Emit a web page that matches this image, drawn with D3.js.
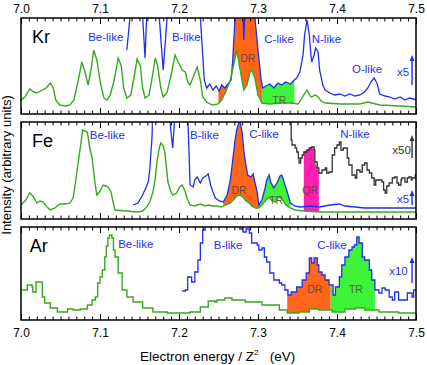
<!DOCTYPE html>
<html>
<head>
<meta charset="utf-8">
<script src="https://cdn.jsdelivr.net/npm/d3@7"></script>
<style>
  body { margin: 0; background: #fff; }
  svg { display: block; font-family: "Liberation Sans", Arial, sans-serif; }
</style>
</head>
<body>
<svg id="chart" width="427" height="365"></svg>
<script>
// spectra as [energy / Z^2 (eV), intensity (arb.)]
var krMain = [[7.000,14],[7.005,17],[7.011,25],[7.016,22],[7.020,21],[7.027,24],[7.032,26],[7.037,31],[7.041,26],[7.044,14],[7.049,9],[7.057,8],[7.062,9],[7.067,14],[7.072,32],[7.077,52],[7.081,42],[7.085,29],[7.089,46],[7.092,64],[7.096,54],[7.101,29],[7.105,16],[7.109,14],[7.113,19],[7.118,34],[7.123,56],[7.127,48],[7.130,26],[7.134,16],[7.139,19],[7.143,36],[7.147,55],[7.151,48],[7.154,26],[7.157,16],[7.162,19],[7.166,36],[7.170,56],[7.173,48],[7.177,26],[7.180,17],[7.185,22],[7.190,39],[7.195,59],[7.199,52],[7.204,44],[7.208,42],[7.211,32],[7.214,29],[7.219,39],[7.223,47],[7.227,34],[7.230,17],[7.235,12],[7.242,9],[7.249,10],[7.254,14],[7.259,22],[7.265,34],[7.270,52],[7.273,64],[7.277,46],[7.282,24],[7.286,29],[7.290,42],[7.292,44],[7.296,36],[7.300,19],[7.305,11],[7.315,10],[7.328,11],[7.341,11],[7.351,10],[7.357,18],[7.362,24],[7.366,18],[7.368,17],[7.372,19],[7.375,18],[7.380,13],[7.385,11],[7.404,10],[7.429,10],[7.439,12],[7.444,11],[7.454,9],[7.480,8],[7.501,7]];
var krX5 = [[7.134,64],[7.138,97],[7.142,130],[7.152,130],[7.154,97],[7.157,56],[7.159,97],[7.162,130],[7.172,130],[7.175,97],[7.180,44],[7.185,97],[7.187,130],[7.224,130],[7.227,97],[7.232,34],[7.235,26],[7.239,30],[7.243,24],[7.247,28],[7.251,23],[7.254,29],[7.258,26],[7.262,30],[7.266,34],[7.268,54],[7.271,97],[7.273,130],[7.280,130],[7.282,74],[7.285,130],[7.294,130],[7.296,97],[7.300,64],[7.304,34],[7.306,26],[7.310,28],[7.315,30],[7.320,26],[7.325,31],[7.330,29],[7.335,32],[7.341,30],[7.346,34],[7.349,36],[7.353,42],[7.357,59],[7.359,79],[7.362,94],[7.365,79],[7.367,59],[7.368,52],[7.371,59],[7.373,66],[7.376,62],[7.378,44],[7.382,29],[7.385,24],[7.391,21],[7.397,19],[7.404,20],[7.410,18],[7.416,20],[7.423,18],[7.429,19],[7.435,22],[7.439,26],[7.443,32],[7.447,36],[7.451,30],[7.454,20],[7.461,18],[7.467,17],[7.473,15],[7.480,17],[7.486,14],[7.492,16],[7.501,14]];

var feMain = [[7.000,14],[7.006,19],[7.011,26],[7.015,23],[7.020,16],[7.024,18],[7.028,17],[7.033,12],[7.037,9],[7.043,11],[7.049,15],[7.056,15],[7.062,16],[7.066,21],[7.068,31],[7.072,54],[7.075,71],[7.078,89],[7.084,87],[7.087,71],[7.090,61],[7.094,34],[7.096,24],[7.100,28],[7.104,34],[7.108,33],[7.110,32],[7.114,27],[7.116,19],[7.119,9],[7.134,8],[7.147,7],[7.154,8],[7.159,12],[7.163,17],[7.167,27],[7.170,41],[7.172,57],[7.175,71],[7.177,76],[7.180,73],[7.182,67],[7.186,37],[7.189,29],[7.192,24],[7.197,26],[7.201,32],[7.204,34],[7.208,27],[7.210,21],[7.214,14],[7.220,13],[7.227,15],[7.233,13],[7.237,14],[7.243,13],[7.248,13],[7.254,12],[7.259,14],[7.265,16],[7.270,20],[7.273,23],[7.277,24],[7.281,22],[7.285,18],[7.289,16],[7.292,13],[7.297,11],[7.301,11],[7.305,14],[7.310,19],[7.314,22],[7.318,18],[7.322,17],[7.325,21],[7.328,22],[7.332,18],[7.335,14],[7.341,11],[7.347,9],[7.358,8],[7.378,7],[7.404,7],[7.429,7],[7.454,7],[7.480,7],[7.501,7]];
var feX5 = [[7.142,14],[7.148,16],[7.154,24],[7.158,31],[7.161,37],[7.163,49],[7.166,84],[7.167,130],[7.187,130],[7.189,94],[7.192,71],[7.194,94],[7.197,130],[7.210,130],[7.213,59],[7.214,34],[7.218,32],[7.220,39],[7.223,42],[7.227,36],[7.230,41],[7.234,43],[7.237,45],[7.240,34],[7.243,27],[7.246,21],[7.251,18],[7.256,17],[7.261,24],[7.265,39],[7.268,59],[7.271,79],[7.273,89],[7.276,97],[7.277,99],[7.280,86],[7.282,69],[7.284,57],[7.287,44],[7.291,42],[7.294,45],[7.296,37],[7.299,27],[7.301,14],[7.305,19],[7.309,31],[7.311,39],[7.314,44],[7.316,37],[7.320,31],[7.324,36],[7.328,43],[7.330,44],[7.333,37],[7.337,27],[7.341,16],[7.346,13],[7.353,12],[7.366,13],[7.378,12],[7.391,14],[7.403,15],[7.410,13],[7.423,12],[7.435,11],[7.454,11],[7.480,11],[7.501,11]];
var feX50 = [[7.341,130],[7.342,79],[7.343,74],[7.347,71],[7.349,67],[7.351,61],[7.352,56],[7.354,61],[7.356,64],[7.358,67],[7.362,69],[7.365,71],[7.368,72],[7.371,69],[7.372,57],[7.375,51],[7.377,46],[7.381,49],[7.385,51],[7.387,46],[7.390,47],[7.394,64],[7.397,71],[7.400,74],[7.403,77],[7.405,69],[7.408,71],[7.410,71],[7.413,61],[7.415,54],[7.419,44],[7.423,41],[7.425,49],[7.429,47],[7.432,54],[7.435,56],[7.438,49],[7.441,46],[7.444,41],[7.447,34],[7.449,39],[7.453,39],[7.457,37],[7.459,29],[7.461,26],[7.463,33],[7.466,36],[7.470,41],[7.473,42],[7.476,36],[7.478,34],[7.481,39],[7.482,41],[7.486,37],[7.489,41],[7.491,42],[7.494,39],[7.495,41],[7.499,44],[7.501,42]];

var arMain = [[7.001,30],[7.008,35],[7.014,33],[7.015,28],[7.019,38],[7.024,38],[7.027,23],[7.030,17],[7.037,12],[7.046,8],[7.053,8],[7.059,11],[7.066,10],[7.075,11],[7.084,15],[7.090,20],[7.094,23],[7.097,37],[7.100,43],[7.103,50],[7.106,63],[7.108,74],[7.110,82],[7.112,85],[7.115,82],[7.117,70],[7.119,63],[7.123,47],[7.128,30],[7.134,23],[7.142,18],[7.154,12],[7.167,8],[7.185,7],[7.201,7],[7.214,8],[7.227,13],[7.237,19],[7.246,18],[7.248,20],[7.258,22],[7.267,20],[7.284,18],[7.305,15],[7.327,10],[7.337,7],[7.352,8],[7.365,11],[7.377,10],[7.394,8],[7.410,11],[7.423,12],[7.435,10],[7.453,8],[7.478,7],[7.501,7]];
var arX10 = [[7.204,29],[7.208,30],[7.211,43],[7.216,38],[7.220,48],[7.224,60],[7.227,77],[7.230,90],[7.233,130],[7.275,130],[7.277,91],[7.281,88],[7.285,91],[7.289,87],[7.292,77],[7.299,75],[7.301,70],[7.305,72],[7.308,63],[7.311,58],[7.315,47],[7.320,40],[7.324,40],[7.327,37],[7.330,35],[7.334,30],[7.338,25],[7.342,28],[7.346,28],[7.349,33],[7.352,33],[7.356,40],[7.361,47],[7.365,62],[7.368,57],[7.371,62],[7.375,55],[7.377,48],[7.381,45],[7.385,40],[7.390,35],[7.395,25],[7.398,33],[7.403,43],[7.406,55],[7.410,63],[7.415,70],[7.419,73],[7.422,75],[7.425,83],[7.428,77],[7.432,63],[7.435,60],[7.441,50],[7.444,40],[7.448,30],[7.453,27],[7.457,32],[7.461,30],[7.466,23],[7.470,20],[7.473,28],[7.478,20],[7.486,20],[7.489,27],[7.492,27],[7.495,23],[7.497,30],[7.501,30]];

// resonance bands: [label, from, to]
var krBands = [["DR", 7.250, 7.305], ["TR", 7.305, 7.346]];
var feBands = [["DR", 7.256, 7.301], ["TR", 7.301, 7.341], ["QR", 7.358, 7.377]];
var arBands = [["DR", 7.337, 7.392], ["TR", 7.392, 7.448]];

var xTickLabels = [7.0, 7.1, 7.2, 7.3, 7.4, 7.5];

var GREEN = "#3aa81e", BLUE = "#1f2ff0", DARK = "#333";
var bandFill = { DR: "#ff6618", TR: "#3ff23a", QR: "#ff1eb0" };
var bandText = { DR: "#6a4a3c", TR: "#4a6a3c", QR: "#6a3c55" };

var svg = d3.select("#chart");
var x = d3.scaleLinear().domain([7.0, 7.5]).range([21, 416]);

var panels = [
    { id: "kr", name: "Kr", top: 18, bottom: 114, max: 96, step: false,
      main: krMain, mag: krX5, magColor: BLUE, extra: null, bands: krBands,
      labels: [["Be-like", 7.085, 73], ["B-like", 7.191, 73], ["C-like", 7.308, 71], ["N-like", 7.368, 71], ["O-like", 7.419, 41], ["x5", 7.476, 38]],
      bandLabels: [["DR", 7.287, 52], ["TR", 7.327, 10]],
      arrows: [[BLUE, 29, 59]], nameAt: [7.014, 71] },
    { id: "fe", name: "Fe", top: 122, bottom: 219, max: 97, step: false,
      main: feMain, mag: feX5, magColor: BLUE, extra: feX50, bands: feBands,
      labels: [["Be-like", 7.087, 80], ["B-like", 7.214, 80], ["C-like", 7.289, 81], ["N-like", 7.404, 81], ["x5", 7.476, 16]],
      darkLabels: [["x50", 7.470, 65]],
      bandLabels: [["DR", 7.276, 25], ["TR", 7.323, 15], ["QR", 7.366, 25]],
      arrows: [[DARK, 61, 84], [BLUE, 14, 29]], nameAt: [7.014, 72] },
    { id: "ar", name: "Ar", top: 227, bottom: 320, max: 93, step: true,
      main: arMain, mag: arX10, magColor: BLUE, extra: null, bands: arBands,
      labels: [["Be-like", 7.123, 72], ["B-like", 7.244, 71], ["C-like", 7.375, 71], ["x10", 7.466, 45]],
      bandLabels: [["DR", 7.372, 27], ["TR", 7.424, 27]],
      arrows: [[BLUE, 37, 63]], nameAt: [7.011, 68] }
];

function valueAt(series, e, step) {
    if (e <= series[0][0]) return series[0][1];
    for (var i = 1; i < series.length; i++) {
        if (series[i][0] >= e) {
            var a = series[i - 1], b = series[i];
            if (step) return e === b[0] ? b[1] : a[1];
            return a[1] + (b[1] - a[1]) * (e - a[0]) / (b[0] - a[0]);
        }
    }
    return series[series.length - 1][1];
}

var defs = svg.append("defs");

panels.forEach(function (p) {
    var y = d3.scaleLinear().domain([0, p.max]).range([p.bottom, p.top]);
    var curve = p.step ? d3.curveStepAfter : d3.curveLinear;

    defs.append("clipPath").attr("id", "clip-" + p.id)
        .append("rect")
        .attr("x", x(7.0)).attr("y", p.top)
        .attr("width", x(7.5) - x(7.0)).attr("height", p.bottom - p.top);

    var g = svg.append("g");
    var plot = g.append("g").attr("clip-path", "url(#clip-" + p.id + ")");

    // filled resonance bands, between the main curve and the magnified one
    p.bands.forEach(function (b) {
        var upper = b[0] === "QR" ? p.extra : p.mag;
        var es = [b[1], b[2]];
        p.main.concat(upper).forEach(function (d) {
            if (d[0] > b[1] && d[0] < b[2]) es.push(d[0]);
        });
        es = Array.from(new Set(es)).sort(d3.ascending);
        var pts = es.map(function (e) {
            return [e, valueAt(p.main, e, p.step), valueAt(upper, e, p.step)];
        });
        plot.append("path")
            .datum(pts)
            .attr("fill", bandFill[b[0]])
            .attr("d", d3.area()
                .curve(curve)
                .x(function (d) { return x(d[0]); })
                .y0(function (d) { return y(d[1]); })
                .y1(function (d) { return y(d[2]); }));
    });

    var line = d3.line()
        .curve(curve)
        .x(function (d) { return x(d[0]); })
        .y(function (d) { return y(d[1]); });

    if (p.extra) {
        plot.append("path").datum(p.extra)
            .attr("fill", "none").attr("stroke", DARK).attr("stroke-width", 1.3)
            .attr("d", d3.line().curve(d3.curveStepAfter)
                .x(function (d) { return x(d[0]); })
                .y(function (d) { return y(d[1]); }));
    }
    plot.append("path").datum(p.mag)
        .attr("fill", "none").attr("stroke", p.magColor).attr("stroke-width", 1.3)
        .attr("d", line);
    plot.append("path").datum(p.main)
        .attr("fill", "none").attr("stroke", GREEN).attr("stroke-width", 1.4)
        .attr("d", line);

    // frame and inward ticks
    var minor = d3.range(0, 51).map(function (i) { return 7 + i * 0.01; });
    [[d3.axisBottom, p.bottom], [d3.axisTop, p.top]].forEach(function (a) {
        g.append("g").attr("transform", "translate(0," + a[1] + ")")
            .call(a[0](x).tickValues(minor).tickSize(-3.5).tickFormat(""))
            .call(function (s) { s.select(".domain").remove(); s.selectAll("line").attr("stroke", "#000"); });
        g.append("g").attr("transform", "translate(0," + a[1] + ")")
            .call(a[0](x).tickValues(xTickLabels).tickSize(-6).tickFormat(""))
            .call(function (s) { s.select(".domain").remove(); s.selectAll("line").attr("stroke", "#000"); });
    });
    g.append("rect")
        .attr("x", x(7.0)).attr("y", p.top)
        .attr("width", x(7.5) - x(7.0)).attr("height", p.bottom - p.top)
        .attr("fill", "none").attr("stroke", "#000").attr("stroke-width", 1.5);

    // annotations
    g.append("text").attr("x", x(p.nameAt[0])).attr("y", y(p.nameAt[1]))
        .attr("font-size", 18).attr("fill", "#000").text(p.name);
    p.labels.forEach(function (l) {
        g.append("text").attr("x", x(l[1])).attr("y", y(l[2]))
            .attr("font-size", 11.5).attr("fill", BLUE).text(l[0]);
    });
    (p.darkLabels || []).forEach(function (l) {
        g.append("text").attr("x", x(l[1])).attr("y", y(l[2]))
            .attr("font-size", 11.5).attr("fill", DARK).text(l[0]);
    });
    p.bandLabels.forEach(function (l) {
        g.append("text").attr("x", x(l[1])).attr("y", y(l[2]))
            .attr("text-anchor", "middle")
            .attr("font-size", 10.5).attr("fill", bandText[l[0]]).text(l[0]);
    });
    p.arrows.forEach(function (a) {
        var ax = x(7.495);
        g.append("line").attr("x1", ax).attr("x2", ax)
            .attr("y1", y(a[1])).attr("y2", y(a[2]) + 5)
            .attr("stroke", a[0]).attr("stroke-width", 1.4);
        g.append("path")
            .attr("d", "M" + (ax - 2.5) + "," + (y(a[2]) + 6) + "L" + ax + "," + y(a[2]) + "L" + (ax + 2.5) + "," + (y(a[2]) + 6) + "Z")
            .attr("fill", a[0]);
    });
});

// tick labels: top of first panel, bottom of last panel
svg.append("g").attr("transform", "translate(0,14)")
    .call(d3.axisTop(x).tickValues(xTickLabels).tickSize(0).tickPadding(1).tickFormat(d3.format(".1f")))
    .call(function (s) { s.select(".domain").remove(); s.selectAll("text").attr("font-size", 12).attr("font-family", null).attr("fill", "#000"); });
svg.append("g").attr("transform", "translate(0,325)")
    .call(d3.axisBottom(x).tickValues(xTickLabels).tickSize(0).tickPadding(3).tickFormat(d3.format(".1f")))
    .call(function (s) { s.select(".domain").remove(); s.selectAll("text").attr("font-size", 12).attr("font-family", null).attr("fill", "#000"); });

var xl = svg.append("text").attr("x", 140).attr("y", 361).attr("font-size", 13.5).attr("fill", "#000");
xl.append("tspan").text("Electron energy / Z");
xl.append("tspan").attr("dy", -6).attr("font-size", 8).text("2");
xl.append("tspan").attr("dy", 6).attr("xml:space", "preserve").text("   (eV)");

svg.append("text")
    .attr("transform", "translate(11,165) rotate(-90)")
    .attr("text-anchor", "middle").attr("font-size", 13).attr("fill", "#000")
    .text("Intensity (arbitrary units)");
</script>
</body>
</html>
